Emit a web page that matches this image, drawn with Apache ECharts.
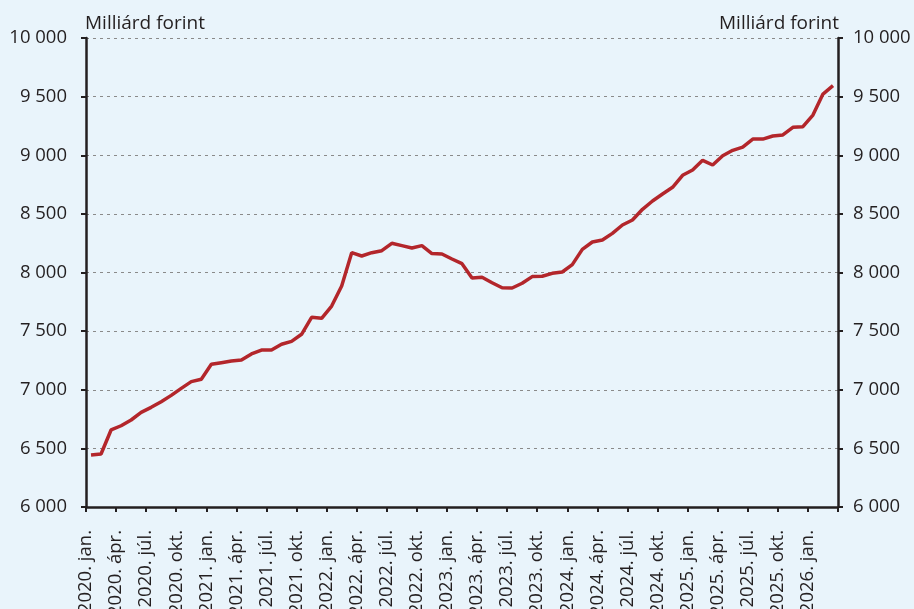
<!DOCTYPE html>
<html><head><meta charset="utf-8">
<script src="https://cdn.jsdelivr.net/npm/echarts@6/dist/echarts.min.js"></script>
<style>html,body{margin:0;padding:0;background:#e9f4fb}#c{width:914px;height:609px}</style>
</head><body><div id="c"></div>
<script>
var years = ['2020','2021','2022','2023','2024','2025','2026'];
var monthNames = ['jan.','febr.','márc.','ápr.','máj.','jún.','júl.','aug.','szept.','okt.','nov.','dec.'];
// 75 monthly observations: 2020 jan – 2026 márc
var values = [6443,6452,6657,6693,6742,6807,6850,6898,6952,7012,7069,7089,
  7217,7231,7245,7254,7305,7339,7339,7388,7413,7473,7618,7609,
  7714,7885,8169,8141,8169,8186,8249,8229,8209,8229,8161,8158,
  8115,8075,7953,7959,7913,7870,7868,7908,7965,7968,7993,8004,
  8067,8197,8260,8277,8334,8405,8448,8539,8610,8670,8727,8829,
  8874,8957,8917,8996,9042,9070,9138,9138,9164,9173,9238,9244,
  9343,9522,9593];
var yMin = 6000, yMax = 10000, yStep = 500;
var axisName = 'Milliárd forint';

var months = [];
years.forEach(function(y){ monthNames.forEach(function(m){ months.push(y + '. ' + m); }); });
var dataCats = months.slice(0, values.length);
var tickCats = months.slice(0, values.length + 1);

var font = '"Open Sans", sans-serif';
var txt = '#231f20';
function fmt(v){ return String(v).replace(/\B(?=(\d{3})+(?!\d))/g, ' '); }
function yAx(pos){
  return {
    type:'value', position:pos, min:yMin, max:yMax, interval:yStep,
    name: axisName, nameLocation:'end', nameGap:5,
    nameTextStyle:{fontFamily:font, fontSize:19, color:txt, align: pos==='left'?'left':'right', verticalAlign:'bottom', padding: pos==='left'?[0,0,0,-1]:[0,-1,0,0]},
    axisLine:{show:true, lineStyle:{color:txt, width:2.5}},
    axisTick:{show:true, length:5, lineStyle:{color:txt, width:2}},
    axisLabel:{fontFamily:font, fontSize:18.5, color:txt, margin: pos==='left'?19:15, formatter:fmt},
    splitLine:{show: pos==='left', lineStyle:{color:'#8a8a8a', type:[3,4], width:1}}
  };
}
var chart = echarts.init(document.getElementById('c'));
chart.setOption({
  backgroundColor:'#e9f4fb',
  animation:false,
  grid:{left:86, right:76, top:38, bottom:102, containLabel:false, outerBoundsMode:'none'},
  xAxis:[{
    type:'category', boundaryGap:false, data:tickCats, position:'bottom',
    axisLine:{lineStyle:{color:txt, width:2.5}},
    axisTick:{show:true, length:5, interval:function(i){return i%3===0;}, lineStyle:{color:txt, width:2}},
    axisLabel:{rotate:90, fontFamily:font, fontSize:18.5, color:txt, margin:23,
      interval:function(i){return i%3===0 && i < values.length;}},
    splitLine:{show:false}
  },{
    type:'category', boundaryGap:true, data:dataCats, position:'bottom', show:false
  }],
  yAxis:[yAx('left'), yAx('right')],
  series:[{
    type:'line', xAxisIndex:1, yAxisIndex:0, data:values, symbol:'none',
    lineStyle:{color:'#b3262b', width:3.5}
  }]
});
</script></body></html>
